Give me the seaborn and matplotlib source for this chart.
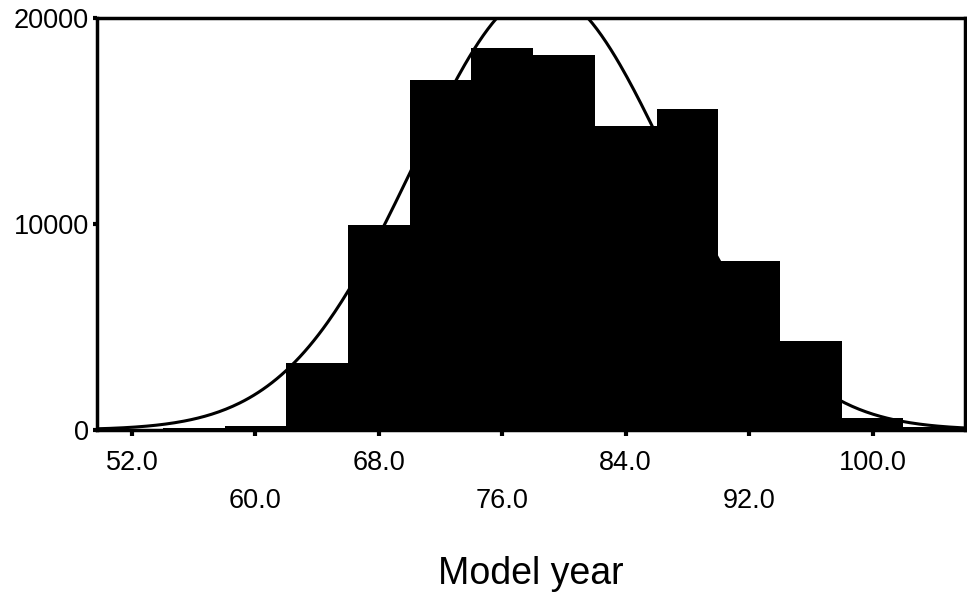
import numpy as np
import pandas as pd
import matplotlib
matplotlib.use("Agg")
import matplotlib.pyplot as plt
import seaborn as sns

# ---- data ----
bin_edges = [50, 54, 58, 62, 66, 70, 74, 78, 82, 86, 90, 94, 98, 102, 106]
bin_counts = [30, 80, 200, 3240, 9930, 17000, 18550, 18210, 14770, 15590, 8180, 4310, 560, 150]
# normal curve parameters
curve_mean = 78.6
curve_sd = 8.3
major_ticks = [52.0, 68.0, 84.0, 100.0]
minor_ticks = [60.0, 76.0, 92.0]
y_ticks = [0, 10000, 20000]
x_label = "Model year"

sns.set_theme(style="white")
plt.rcParams["font.family"] = ["Liberation Sans", "DejaVu Sans"]

centers = [(a + b) / 2 for a, b in zip(bin_edges[:-1], bin_edges[1:])]
df = pd.DataFrame({"year": centers, "count": bin_counts})

fig = plt.figure(figsize=(9.67, 5.97), dpi=100)
ax = fig.add_axes([0.1003, 0.280, 0.8977, 0.690])

sns.histplot(data=df, x="year", weights="count", bins=bin_edges, ax=ax,
             color="black", edgecolor="black", linewidth=0, alpha=1.0,
             element="bars", fill=True)

# fitted normal curve scaled to counts
n_total = sum(bin_counts)
bw = bin_edges[1] - bin_edges[0]
xs = np.linspace(48, 108, 400)
ys = n_total * bw / (curve_sd * np.sqrt(2 * np.pi)) * np.exp(-0.5 * ((xs - curve_mean) / curve_sd) ** 2)
sns.lineplot(x=xs, y=ys, ax=ax, color="black", linewidth=2.2)

ax.set_xlim(49.73, 106.0)
ax.set_ylim(0, 20000)

ax.set_xticks(major_ticks)
ax.set_xticklabels([f"{v:.1f}" for v in major_ticks])
ax.set_xticks(minor_ticks, minor=True)
ax.set_xticklabels([f"{v:.1f}" for v in minor_ticks], minor=True)
ax.set_yticks(y_ticks)
ax.set_yticklabels([str(v) for v in y_ticks])

ax.tick_params(axis="x", which="major", direction="out", length=4, width=3,
               color="black", labelsize=19.5, pad=10.5, labelcolor="black")
ax.tick_params(axis="x", which="minor", direction="out", length=4, width=3,
               color="black", labelsize=19.5, pad=38, labelcolor="black")
ax.tick_params(axis="y", direction="out", length=3, width=3,
               color="black", labelsize=19.5, pad=3, labelcolor="black")
ax.tick_params(bottom=True, left=True, which="both")

for s in ax.spines.values():
    s.set_visible(True)
    s.set_color("black")
    s.set_linewidth(2.5)

ax.set_ylabel("")
ax.set_xlabel(x_label, fontsize=27, color="black", labelpad=30)
ax.grid(False)

fig.savefig("out.png", dpi=100, facecolor="white")
